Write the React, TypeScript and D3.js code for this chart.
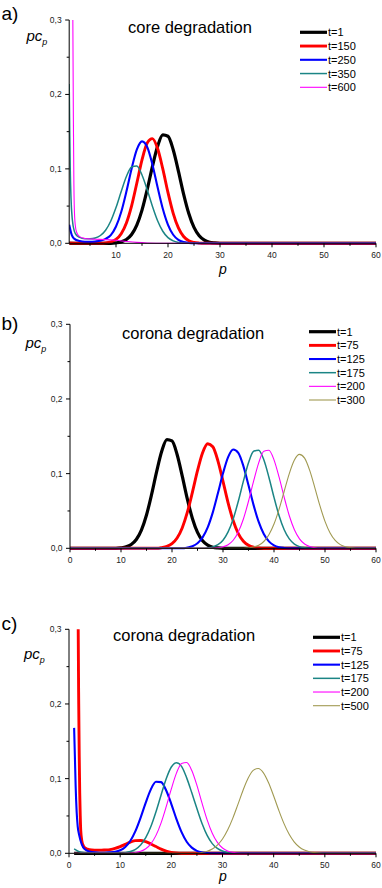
import React from 'react';
import * as d3 from 'd3';

type Pt = [number, number];

// ---------- tick / label data ----------
const yTicksMajor = [0, 0.1, 0.2, 0.3];
const yTicksMinor = [0.05, 0.15, 0.25];
const xTicksMajorA = [10, 20, 30, 40, 50, 60];
const xTicksMajorBC = [0, 10, 20, 30, 40, 50, 60];
const xTicksMinor = [5, 15, 25, 35, 45, 55];

const panelLetters = ['a)', 'b)', 'c)'];
const panelTitles = ['core degradation', 'corona degradation', 'corona degradation'];

const labelsA = ['t=1', 't=150', 't=250', 't=350', 't=600'];
const labelsB = ['t=1', 't=75', 't=125', 't=175', 't=200', 't=300'];
const labelsC = ['t=1', 't=75', 't=125', 't=175', 't=200', 't=500'];

// ---------- series values (p, p*c_p) ----------
const aT1: Pt[] = [[1, 0], [9, 0], [10, 0.0006], [11, 0.0019], [12, 0.0051], [13, 0.0118], [14, 0.0244], [15, 0.0446], [16, 0.0722], [17, 0.1031], [18, 0.1303], [19, 0.1456], [20, 0.1438], [21, 0.1256], [22, 0.097], [23, 0.0662], [24, 0.04], [25, 0.0213], [26, 0.0101], [27, 0.0042], [28, 0.0015], [29, 0.0005], [30, 0], [60, 0]];
const aT150: Pt[] = [[1, 0.0005], [2, 0.0003], [4, 0.0002], [7, 0.0003], [8, 0.0006], [9, 0.0019], [10, 0.0052], [11, 0.0129], [12, 0.0274], [13, 0.0504], [14, 0.0807], [15, 0.112], [16, 0.1347], [17, 0.1406], [18, 0.1273], [19, 0.0999], [20, 0.068], [21, 0.0402], [22, 0.0206], [23, 0.0091], [24, 0.0035], [25, 0.0012], [26, 0.0003], [27, 0], [60, 0]];
const aT250: Pt[] = [[1, 0.025], [1.5, 0.011], [2, 0.006], [3, 0.003], [4, 0.002], [5, 0.002], [6, 0.0025], [7, 0.0035], [8, 0.006], [9, 0.011], [10, 0.0225], [11, 0.042], [12, 0.0695], [13, 0.1003], [14, 0.1258], [15, 0.1369], [16, 0.1293], [17, 0.106], [18, 0.0753], [19, 0.0464], [20, 0.0248], [21, 0.0115], [22, 0.0046], [23, 0.0016], [24, 0.0005], [25, 0], [60, 0]];
const aT350: Pt[] = [[1, 0.214], [1.1, 0.15], [1.2, 0.1], [1.35, 0.06], [1.6, 0.032], [2, 0.016], [2.5, 0.01], [3, 0.008], [4, 0.0062], [5, 0.006], [6, 0.0071], [7, 0.0105], [8, 0.0176], [9, 0.03], [10, 0.048], [11, 0.0696], [12, 0.0898], [13, 0.1026], [14, 0.104], [15, 0.0918], [16, 0.072], [17, 0.0498], [18, 0.0303], [19, 0.0162], [20, 0.0076], [21, 0.0032], [22, 0.0012], [23, 0.0004], [24, 0], [60, 0]];
const aT600: Pt[] = [[1, 1.2], [1.3, 0.8], [1.5, 0.55], [1.7, 0.3], [1.8, 0.17], [1.9, 0.08], [2.05, 0.035], [2.3, 0.018], [2.7, 0.011], [3, 0.009], [4, 0.0065], [5, 0.0058], [6, 0.0055], [8, 0.005], [10, 0.004], [12, 0.0025], [14, 0.0012], [16, 0.0004], [18, 0.0001], [20, 0], [60, 0]];

const bT1: Pt[] = [[0, 0], [9, 0], [10, 0.0006], [11, 0.0019], [12, 0.0051], [13, 0.0118], [14, 0.0244], [15, 0.0446], [16, 0.0722], [17, 0.1031], [18, 0.1303], [19, 0.1456], [20, 0.1438], [21, 0.1256], [22, 0.097], [23, 0.0662], [24, 0.04], [25, 0.0213], [26, 0.0101], [27, 0.0042], [28, 0.0015], [29, 0.0005], [30, 0], [60, 0]];
const bT75: Pt[] = [[0, 0], [17, 0], [18, 0.0009], [19, 0.0025], [20, 0.0062], [21, 0.0138], [22, 0.0273], [23, 0.048], [24, 0.075], [25, 0.104], [26, 0.1281], [27, 0.1401], [28, 0.136], [29, 0.1172], [30, 0.0897], [31, 0.0609], [32, 0.0368], [33, 0.0197], [34, 0.0094], [35, 0.004], [36, 0.0015], [37, 0.0005], [38, 0], [60, 0]];
const bT125: Pt[] = [[0, 0], [22, 0], [23, 0.001], [24, 0.0028], [25, 0.0067], [26, 0.0146], [27, 0.028], [28, 0.0481], [29, 0.0736], [30, 0.1004], [31, 0.1221], [32, 0.1323], [33, 0.1278], [34, 0.1101], [35, 0.0845], [36, 0.0578], [37, 0.0353], [38, 0.0192], [39, 0.0093], [40, 0.004], [41, 0.0015], [42, 0.0005], [43, 0], [60, 0]];
const bT175: Pt[] = [[0, 0], [26, 0], [27, 0.0007], [28, 0.0019], [29, 0.0048], [30, 0.0108], [31, 0.0219], [32, 0.0393], [33, 0.063], [34, 0.0899], [35, 0.1145], [36, 0.1299], [37, 0.1314], [38, 0.1185], [39, 0.0952], [40, 0.0682], [41, 0.0436], [42, 0.0248], [43, 0.0126], [44, 0.0057], [45, 0.0023], [46, 0.0008], [47, 0], [60, 0]];
const bT200: Pt[] = [[0, 0], [28, 0], [29, 0.0007], [30, 0.0019], [31, 0.0048], [32, 0.0108], [33, 0.0219], [34, 0.0393], [35, 0.063], [36, 0.0899], [37, 0.1145], [38, 0.1299], [39, 0.1314], [40, 0.1185], [41, 0.0952], [42, 0.0682], [43, 0.0436], [44, 0.0248], [45, 0.0126], [46, 0.0057], [47, 0.0023], [48, 0.0008], [49, 0], [60, 0]];
const bT300: Pt[] = [[0, 0], [34, 0], [35, 0.0006], [36, 0.0017], [37, 0.0041], [38, 0.0091], [39, 0.0182], [40, 0.0325], [41, 0.0525], [42, 0.0764], [43, 0.1001], [44, 0.1182], [45, 0.1258], [46, 0.1207], [47, 0.1043], [48, 0.0813], [49, 0.0571], [50, 0.0361], [51, 0.0206], [52, 0.0106], [53, 0.0049], [54, 0.002], [55, 0.0008], [56, 0], [60, 0]];

const cT1: Pt[] = [[1, 0], [60, 0]];
const cT75: Pt[] = [[1.6, 0.8], [1.7, 0.5], [1.8, 0.3], [1.9, 0.2], [2.0, 0.13], [2.1, 0.08], [2.2, 0.05], [2.3, 0.03], [2.5, 0.017], [2.8, 0.01], [3.2, 0.0068], [3.6, 0.0055], [4, 0.0048], [5, 0.0043], [6, 0.0042], [7, 0.0045], [8, 0.005], [9, 0.0065], [10, 0.009], [11, 0.012], [12, 0.015], [13, 0.017], [14, 0.0172], [15, 0.0155], [16, 0.0125], [17, 0.009], [18, 0.0055], [19, 0.003], [20, 0.0013], [21, 0.0005], [22, 0.0001], [23, 0], [60, 0]];
const cT125: Pt[] = [[1, 0.168], [1.15, 0.13], [1.3, 0.09], [1.5, 0.055], [1.7, 0.036], [2, 0.024], [2.5, 0.012], [3, 0.006], [4, 0.0025], [5, 0.0012], [6, 0.0008], [7, 0.0008], [8, 0.0012], [9, 0.002], [10, 0.004], [11, 0.0085], [12, 0.0168], [13, 0.03], [14, 0.0478], [15, 0.0679], [16, 0.0856], [17, 0.0958], [18, 0.0953], [19, 0.0841], [20, 0.0659], [21, 0.0459], [22, 0.0283], [23, 0.0155], [24, 0.0076], [25, 0.0033], [26, 0.0013], [27, 0.0004], [28, 0], [60, 0]];
const cT175: Pt[] = [[1, 0.006], [1.5, 0.004], [2, 0.002], [3, 0.0007], [5, 0.0002], [8, 0.0003], [10, 0.0005], [11, 0.0009], [12, 0.0023], [13, 0.0053], [14, 0.0111], [15, 0.0209], [16, 0.0358], [17, 0.0556], [18, 0.0782], [19, 0.0999], [20, 0.1156], [21, 0.1214], [22, 0.1165], [23, 0.101], [24, 0.081], [25, 0.06], [26, 0.04], [27, 0.024], [28, 0.013], [29, 0.0065], [30, 0.003], [31, 0.0012], [32, 0.0004], [33, 0], [60, 0]];
const cT200: Pt[] = [[1, 0], [11, 0], [12, 0.0004], [13, 0.001], [14, 0.0026], [15, 0.0061], [16, 0.0127], [17, 0.024], [18, 0.0408], [19, 0.0625], [20, 0.0863], [21, 0.1074], [22, 0.1204], [23, 0.1217], [24, 0.1108], [25, 0.0909], [26, 0.0672], [27, 0.0448], [28, 0.0269], [29, 0.0146], [30, 0.0071], [31, 0.0031], [32, 0.0012], [33, 0.0004], [34, 0], [60, 0]];
const cT500: Pt[] = [[1, 0], [25, 0], [26, 0.0013], [27, 0.0028], [28, 0.0057], [29, 0.0109], [30, 0.0191], [31, 0.0311], [32, 0.0468], [33, 0.0652], [34, 0.0841], [35, 0.1004], [36, 0.111], [37, 0.1136], [38, 0.1077], [39, 0.0944], [40, 0.0767], [41, 0.0576], [42, 0.0401], [43, 0.0258], [44, 0.0154], [45, 0.0085], [46, 0.0043], [47, 0.0021], [48, 0.0009], [49, 0.0003], [50, 0], [60, 0]];

// ---------- styles ----------
const COLORS = {
  black: '#000000',
  red: '#ff0000',
  blue: '#0000ff',
  teal: '#1b8585',
  magenta: '#ff00ff',
  olive: '#a19a52',
};
const STYLE = [
  { color: COLORS.black, width: 3.2 },
  { color: COLORS.red, width: 2.9 },
  { color: COLORS.blue, width: 2.1 },
  { color: COLORS.teal, width: 1.5 },
  { color: COLORS.magenta, width: 1.1 },
  { color: COLORS.olive, width: 1.1 },
];

const FONT = '"Liberation Sans", Arial, Helvetica, sans-serif';
const fmt = d3.formatLocale({ decimal: ',', thousands: '.', grouping: [3], currency: ['', ''] }).format('.1f');

interface PanelCfg {
  id: string;
  letter: string;
  title: string;
  letterY: number;
  titleX: number;
  titleY: number;
  pcX: number;
  pcY: number;
  xDomain: [number, number];
  xRange: [number, number];
  yRange: [number, number];
  xMajor: number[];
  pLabel: null | { x: number; y: number };
  legend: { x1: number; x2: number; y0: number; dy: number };
  labels: string[];
  series: Pt[][];
}

const panels: PanelCfg[] = [
  {
    id: 'a', letter: panelLetters[0], title: panelTitles[0], letterY: 20,
    titleX: 128, titleY: 33, pcX: 26.5, pcY: 41,
    xDomain: [1, 60], xRange: [69.2, 376], yRange: [243.3, 20],
    xMajor: xTicksMajorA, pLabel: { x: 223, y: 274 },
    legend: { x1: 300, x2: 327, y0: 32.3, dy: 13.75 },
    labels: labelsA, series: [aT1, aT150, aT250, aT350, aT600],
  },
  {
    id: 'b', letter: panelLetters[1], title: panelTitles[1], letterY: 330,
    titleX: 122, titleY: 339, pcX: 25.5, pcY: 347.5,
    xDomain: [0, 60], xRange: [70, 376], yRange: [548.3, 324.3],
    xMajor: xTicksMajorBC, pLabel: null,
    legend: { x1: 309, x2: 336, y0: 331.7, dy: 13.66 },
    labels: labelsB, series: [bT1, bT75, bT125, bT175, bT200, bT300],
  },
  {
    id: 'c', letter: panelLetters[2], title: panelTitles[2], letterY: 630,
    titleX: 113, titleY: 640.5, pcX: 24, pcY: 659,
    xDomain: [0, 60], xRange: [69, 376], yRange: [853.3, 629.3],
    xMajor: xTicksMajorBC, pLabel: { x: 223, y: 880.5 },
    legend: { x1: 313, x2: 340, y0: 637.3, dy: 13.68 },
    labels: labelsC, series: [cT1, cT75, cT125, cT175, cT200, cT500],
  },
];

function Panel({ cfg }: { cfg: PanelCfg }) {
  const x = d3.scaleLinear().domain(cfg.xDomain).range(cfg.xRange);
  const y = d3.scaleLinear().domain([0, 0.3]).range(cfg.yRange);
  const line = d3
    .line<Pt>()
    .x((d) => x(d[0]))
    .y((d) => y(d[1]))
    .curve(d3.curveMonotoneX);
  const [xl, xr] = cfg.xRange;
  const [yb, yt] = cfg.yRange;
  const clipId = `clip-${cfg.id}`;
  return (
    <g>
      <defs>
        <clipPath id={clipId}>
          <rect x={xl} y={yt} width={xr - xl + 2} height={yb - yt + 3} />
        </clipPath>
      </defs>
      <text x={1.5} y={cfg.letterY} fontFamily={FONT} fontSize={19} fill="#000">
        {cfg.letter}
      </text>
      <text x={cfg.titleX} y={cfg.titleY} fontFamily={FONT} fontSize={16.5} fill="#000">
        {cfg.title}
      </text>
      <text x={cfg.pcX} y={cfg.pcY} fontFamily={FONT} fontSize={15} fontStyle="italic" fill="#000">
        pc
        <tspan fontSize={9} dy={4}>p</tspan>
      </text>
      <g clipPath={`url(#${clipId})`}>
        {cfg.series.map((s, i) => (
          <path
            key={i}
            d={line(s) || ''}
            fill="none"
            stroke={STYLE[i].color}
            strokeWidth={STYLE[i].width}
            strokeLinejoin="round"
          />
        ))}
      </g>
      <line x1={xl} x2={xl} y1={yb} y2={yt} stroke="#000" strokeWidth={1} />
      <line x1={xl} x2={xr} y1={yb} y2={yb} stroke="#000" strokeWidth={1} />
      {yTicksMajor.map((t) => (
        <g key={`ym${t}`}>
          <line x1={xl - 4} x2={xl} y1={y(t)} y2={y(t)} stroke="#000" strokeWidth={1} />
          <text x={xl - 7.5} y={y(t) + 3} textAnchor="end" fontFamily={FONT} fontSize={8.5} fill="#222">
            {fmt(t)}
          </text>
        </g>
      ))}
      {yTicksMinor.map((t) => (
        <line key={`yn${t}`} x1={xl - 2.5} x2={xl} y1={y(t)} y2={y(t)} stroke="#000" strokeWidth={1} />
      ))}
      {cfg.xMajor.map((t) => (
        <g key={`xm${t}`}>
          <line x1={x(t)} x2={x(t)} y1={yb} y2={yb + 4} stroke="#000" strokeWidth={1} />
          <text x={x(t)} y={yb + 15} textAnchor="middle" fontFamily={FONT} fontSize={8.5} fill="#222">
            {t}
          </text>
        </g>
      ))}
      {xTicksMinor.map((t) => (
        <line key={`xn${t}`} x1={x(t)} x2={x(t)} y1={yb} y2={yb + 2.5} stroke="#000" strokeWidth={1} />
      ))}
      {cfg.pLabel && (
        <text x={cfg.pLabel.x} y={cfg.pLabel.y} textAnchor="middle" fontFamily={FONT} fontSize={14} fontStyle="italic" fill="#000">
          p
        </text>
      )}
      {cfg.labels.map((lab, i) => {
        const ly = cfg.legend.y0 + i * cfg.legend.dy;
        return (
          <g key={lab}>
            <line x1={cfg.legend.x1} x2={cfg.legend.x2} y1={ly} y2={ly} stroke={STYLE[i].color} strokeWidth={STYLE[i].width} />
            <text x={cfg.legend.x2 + 1} y={ly + 4} fontFamily={FONT} fontSize={11} fill="#000">
              {lab}
            </text>
          </g>
        );
      })}
    </g>
  );
}

export default function App() {
  return (
    <svg
      width={382}
      height={888}
      viewBox="0 0 382 888"
      style={{ position: 'absolute', left: 0, top: 0, background: '#fff' }}
    >
      <rect x={0} y={0} width={382} height={888} fill="#fff" />
      {panels.map((p) => (
        <Panel key={p.id} cfg={p} />
      ))}
    </svg>
  );
}
